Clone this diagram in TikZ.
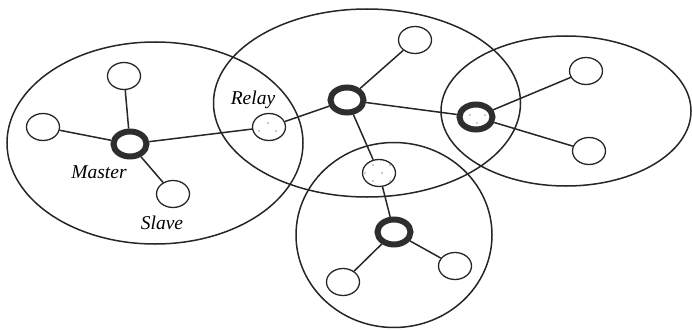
\documentclass[tikz,border=0pt]{standalone}
\usepackage{fontspec}
\setmainfont{Liberation Serif}
\usetikzlibrary{shapes.geometric}
\tikzset{
  cell/.style={draw=black!85, line width=1.5pt, ellipse, inner sep=0pt},
  slavenode/.style={draw=black!85, line width=1.3pt, ellipse, inner sep=0pt, minimum width=33pt, minimum height=27pt},
  masternode/.style={draw=black!82, line width=6pt, ellipse, inner sep=0pt, minimum width=33pt, minimum height=25pt},
  link/.style={draw=black!85, line width=1.5pt},
  lbl/.style={font=\fontsize{19.5}{22}\selectfont\itshape, inner sep=0pt},
  dot/.style={fill=black!40}
}
\begin{document}
\begin{tikzpicture}[x=1pt,y=-1pt]
\useasboundingbox (0,0) rectangle (692,329);
% cells
\node[cell, minimum width=296pt, minimum height=202pt] (cellA) at (155,143) {};
\node[cell, minimum width=307pt, minimum height=188pt] (cellB) at (367,103) {};
\node[cell, minimum width=250pt, minimum height=150pt] (cellC) at (566,111) {};
\node[cell, minimum width=196pt, minimum height=185pt] (cellD) at (394,235) {};
% left piconet
\node[masternode] (mA) at (130,144) {};
\node[slavenode] (aTop) at (124,76) {};
\node[slavenode] (aLeft) at (43,127) {};
\node[slavenode] (aSlave) at (173,194) {};
\node[slavenode] (rA) at (269,127) {};
% middle piconet
\node[masternode] (mB) at (347,100) {};
\node[slavenode] (bTop) at (415,40) {};
\node[slavenode] (rD) at (379,173) {};
% right piconet
\node[masternode] (mC) at (476,117) {};
\node[slavenode] (cTop) at (586,71) {};
\node[slavenode] (cBot) at (589,151) {};
% bottom piconet
\node[masternode] (mD) at (394,232) {};
\node[slavenode] (dLeft) at (343,282) {};
\node[slavenode] (dRight) at (455,266) {};
% links
\path[link] (mA) -- (aTop);
\path[link] (mA) -- (aLeft);
\path[link] (mA) -- (aSlave);
\path[link] (mA) -- (rA);
\path[link] (rA) -- (mB);
\path[link] (mB) -- (bTop);
\path[link] (mB) -- (mC);
\path[link] (mB) -- (rD);
\path[link] (mC) -- (cTop);
\path[link] (mC) -- (cBot);
\path[link] (rD) -- (mD);
\path[link] (mD) -- (dLeft);
\path[link] (mD) -- (dRight);
% dots in relay nodes
\foreach \dx/\dy in {-1/-4,-10/4,7/4} \fill[dot] ([shift={(\dx,\dy)}]rA.center) circle (0.9pt);
\foreach \dx/\dy in {-6/-2,9/-2,1/6} \fill[dot] ([shift={(\dx,\dy)}]mC.center) circle (0.9pt);
\foreach \dx/\dy in {-6/-8,11/-8,-14/0,3/0,-6/8,11/8} \fill[dot] ([shift={(\dx,\dy)}]rD.center) circle (0.9pt);
% labels
\node[lbl] (tMaster) at (99,172) {Master};
\node[lbl] (tSlave) at (162,223) {Slave};
\node[lbl] (tRelay) at (253,100) {Relay};
\end{tikzpicture}
\end{document}
